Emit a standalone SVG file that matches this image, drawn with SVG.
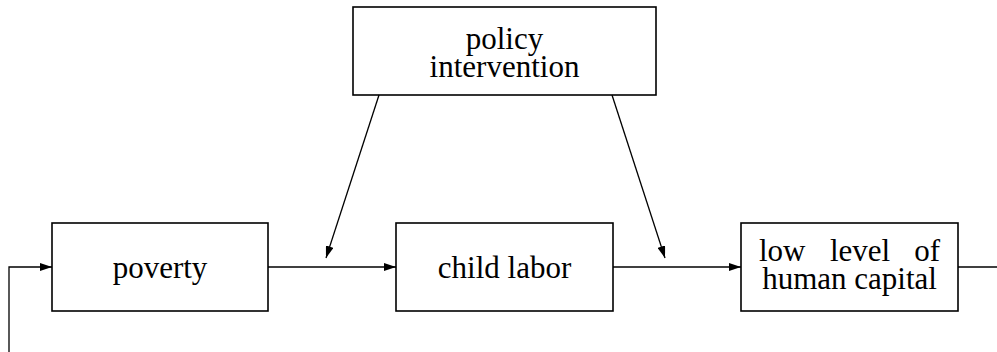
<svg xmlns="http://www.w3.org/2000/svg" width="997" height="352" viewBox="0 0 997 352">
<style>
.box{fill:#fff;stroke:#000;stroke-width:1.6}
.lbl{font-family:'Liberation Serif','Times New Roman','DejaVu Serif',serif;font-size:31px;fill:#000}
.c{text-anchor:middle}
.ln{fill:none;stroke:#000;stroke-width:1.3}
</style>
<defs>
<marker id="ah" viewBox="0 0 12 8" refX="12" refY="4" markerWidth="12" markerHeight="8" markerUnits="userSpaceOnUse" orient="auto">
<path d="M0,0 L12,4 L0,8 Z" fill="#000"/>
</marker>
</defs>
<rect width="997" height="352" fill="#fff"/>
<g id="policy">
<rect class="box" x="353" y="7" width="303" height="88"/>
<text class="lbl c" font-family="Liberation Serif, serif" x="504.5" y="49">policy</text>
<text class="lbl c" font-family="Liberation Serif, serif" x="504.5" y="77">intervention</text>
</g>
<g id="poverty">
<rect class="box" x="52" y="223" width="216" height="88"/>
<text class="lbl c" font-family="Liberation Serif, serif" x="160" y="278">poverty</text>
</g>
<g id="childlabor">
<rect class="box" x="396" y="223" width="217" height="88"/>
<text class="lbl c" font-family="Liberation Serif, serif" x="504.5" y="278">child labor</text>
</g>
<g id="humancapital">
<rect class="box" x="741" y="223" width="217" height="88"/>
<text class="lbl" font-family="Liberation Serif, serif" x="759" y="261">low</text>
<text class="lbl c" font-family="Liberation Serif, serif" x="860" y="261">level</text>
<text class="lbl" font-family="Liberation Serif, serif" x="940" y="261" text-anchor="end">of</text>
<text class="lbl c" font-family="Liberation Serif, serif" x="849.5" y="289">human capital</text>
</g>
<g id="connectors">
<polyline class="ln" points="9,352 9,267 52,267" marker-end="url(#ah)"/>
<line class="ln" x1="268" y1="267" x2="396" y2="267" marker-end="url(#ah)"/>
<line class="ln" x1="613" y1="267" x2="741" y2="267" marker-end="url(#ah)"/>
<line class="ln" x1="958" y1="267" x2="997" y2="267"/>
<line class="ln" x1="379" y1="95" x2="326" y2="258" marker-end="url(#ah)"/>
<line class="ln" x1="612" y1="95" x2="665" y2="258" marker-end="url(#ah)"/>
</g>
</svg>
